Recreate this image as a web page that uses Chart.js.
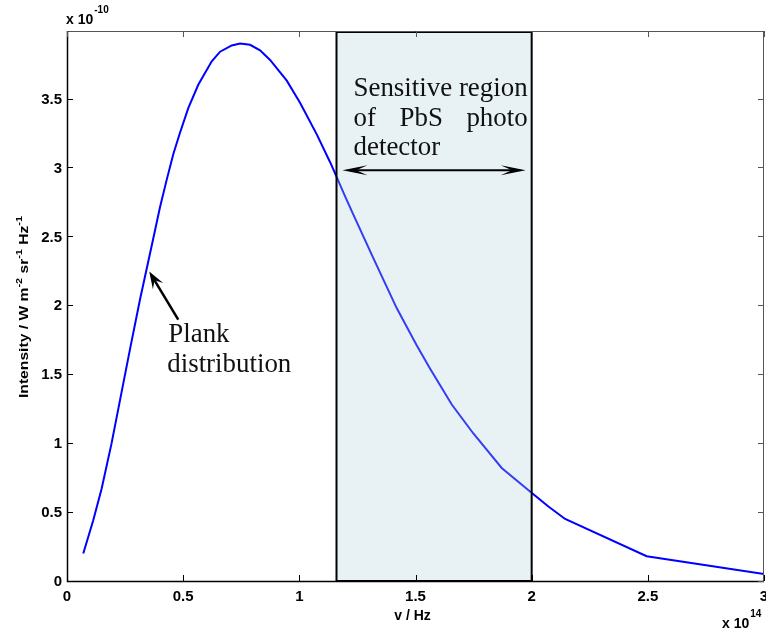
<!DOCTYPE html>
<html>
<head>
<meta charset="utf-8">
<script src="https://cdn.jsdelivr.net/npm/chart.js@4"></script>
<style>
  html, body { margin: 0; padding: 0; background: #ffffff; }
  #wrap { width: 766px; height: 631px; position: relative; }
</style>
</head>
<body>
<div id="wrap"><canvas id="c" width="766" height="631"></canvas></div>
<script>
// Planck spectral intensity, frequency in units of 1e14 Hz, intensity in units of 1e-10
const frequency = [0.070, 0.113, 0.149, 0.192, 0.228, 0.271, 0.314, 0.350, 0.372, 0.400,
                   0.429, 0.458, 0.486, 0.522, 0.565, 0.623, 0.659, 0.709, 0.745, 0.788,
                   0.831, 0.874, 0.946, 1.003, 1.075, 1.132, 1.161, 1.197, 1.232, 1.319,
                   1.419, 1.505, 1.563, 1.656, 1.749, 1.871, 1.993, 2.072, 2.144, 2.495, 3.000];
const intensity = [0.20, 0.44, 0.67, 1.00, 1.31, 1.68, 2.04, 2.32, 2.49, 2.71,
                   2.91, 3.10, 3.25, 3.43, 3.60, 3.77, 3.84, 3.885, 3.90, 3.89,
                   3.85, 3.78, 3.63, 3.47, 3.24, 3.04, 2.93, 2.79, 2.66, 2.34,
                   1.98, 1.71, 1.54, 1.28, 1.07, 0.82, 0.65, 0.54, 0.45, 0.18, 0.05];

const xTickValues = [0, 0.5, 1, 1.5, 2, 2.5, 3];
const xTickLabels = ['0', '0.5', '1', '1.5', '2', '2.5', '3'];
const yTickValues = [0, 0.5, 1, 1.5, 2, 2.5, 3, 3.5];
const yTickLabels = ['0', '0.5', '1', '1.5', '2', '2.5', '3', '3.5'];

// PbS detector band (1e14 Hz)
const bandStart = 1.16;
const bandEnd = 2.0;
const bandArrowLevel = 2.98;
const bandText = ['Sensitive region', ['of', 'PbS', 'photo'], 'detector'];

// point on the curve indicated by the "Plank distribution" note
const noteFreq = 0.354;
const noteIntensity = 2.245;
const noteText = ['Plank', 'distribution'];

const points = frequency.map((f, i) => ({ x: f, y: intensity[i] }));

const TICK_FONT = 'bold 15px "Liberation Sans", Arial, sans-serif';
const SERIF = '"Liberation Serif", "Times New Roman", serif';

function stealthHead(ctx, tx, ty, angle, len, halfW, notch) {
  const dx = Math.cos(angle), dy = Math.sin(angle);
  const px = -dy, py = dx;
  ctx.beginPath();
  ctx.moveTo(tx, ty);
  ctx.lineTo(tx - len * dx + halfW * px, ty - len * dy + halfW * py);
  ctx.lineTo(tx - len * notch * dx, ty - len * notch * dy);
  ctx.lineTo(tx - len * dx - halfW * px, ty - len * dy - halfW * py);
  ctx.closePath();
  ctx.fill();
}

const decorations = {
  id: 'decorations',
  afterDatasetsDraw(chart) {
    const { ctx, chartArea: a, scales: { x, y } } = chart;
    const x0 = x.getPixelForValue(bandStart);
    const x1 = x.getPixelForValue(bandEnd);
    ctx.save();
    // translucent band laid over the curve
    ctx.fillStyle = 'rgba(175, 210, 222, 0.29)';
    ctx.fillRect(x0, a.top, x1 - x0, a.bottom - a.top);
    ctx.strokeStyle = '#000000';
    ctx.lineWidth = 2;
    ctx.strokeRect(x0, a.top + 1, x1 - x0, a.bottom - a.top - 1);
    ctx.restore();
  },
  afterDraw(chart) {
    const { ctx, chartArea: a, scales: { x, y } } = chart;
    ctx.save();

    // axes box
    ctx.lineWidth = 1;
    ctx.strokeStyle = '#555555';
    ctx.beginPath();
    ctx.moveTo(a.left, a.top + 0.5); ctx.lineTo(a.right, a.top + 0.5);
    ctx.moveTo(a.right - 0.5, a.top); ctx.lineTo(a.right - 0.5, a.bottom);
    ctx.stroke();
    ctx.lineWidth = 1.5;
    ctx.strokeStyle = '#000000';
    ctx.beginPath();
    ctx.moveTo(a.left + 0.5, a.top); ctx.lineTo(a.left + 0.5, a.bottom + 0.5);
    ctx.lineTo(a.right, a.bottom + 0.5);
    ctx.stroke();

    // inward ticks on all four sides
    const tl = 6;
    ctx.lineWidth = 1;
    xTickValues.forEach(v => {
      const px = Math.round(x.getPixelForValue(v)) + 0.5;
      ctx.strokeStyle = '#000000';
      ctx.beginPath(); ctx.moveTo(px, a.bottom); ctx.lineTo(px, a.bottom - tl); ctx.stroke();
      ctx.strokeStyle = '#555555';
      ctx.beginPath(); ctx.moveTo(px, a.top); ctx.lineTo(px, a.top + tl); ctx.stroke();
    });
    yTickValues.forEach(v => {
      const py = Math.round(y.getPixelForValue(v)) + 0.5;
      ctx.strokeStyle = '#000000';
      ctx.beginPath(); ctx.moveTo(a.left, py); ctx.lineTo(a.left + tl, py); ctx.stroke();
      ctx.strokeStyle = '#555555';
      ctx.beginPath(); ctx.moveTo(a.right, py); ctx.lineTo(a.right - tl, py); ctx.stroke();
    });

    // tick labels
    ctx.fillStyle = '#000000';
    ctx.font = TICK_FONT;
    ctx.textAlign = 'center';
    ctx.textBaseline = 'alphabetic';
    xTickValues.forEach((v, i) => {
      ctx.fillText(xTickLabels[i], x.getPixelForValue(v), a.bottom + 20);
    });
    ctx.textAlign = 'right';
    ctx.textBaseline = 'middle';
    yTickValues.forEach((v, i) => {
      ctx.fillText(yTickLabels[i], a.left - 5, y.getPixelForValue(v) + 1);
    });

    // exponent markers
    ctx.textBaseline = 'alphabetic';
    ctx.textAlign = 'left';
    ctx.font = 'bold 14px "Liberation Sans", Arial, sans-serif';
    ctx.fillText('x 10', a.left - 1, a.top - 7);
    const w1 = ctx.measureText('x 10').width;
    ctx.font = 'bold 10px "Liberation Sans", Arial, sans-serif';
    ctx.fillText('-10', a.left - 1 + w1 + 1, a.top - 18);

    ctx.font = 'bold 14px "Liberation Sans", Arial, sans-serif';
    ctx.fillText('x 10', a.right - 42, a.bottom + 47);
    const w2 = ctx.measureText('x 10').width;
    ctx.font = 'bold 10px "Liberation Sans", Arial, sans-serif';
    ctx.fillText('14', a.right - 42 + w2 + 1, a.bottom + 36);

    // x axis title
    ctx.font = 'bold 14px "Liberation Sans", Arial, sans-serif';
    ctx.textAlign = 'center';
    ctx.fillText('v / Hz', (a.left + a.right) / 2 - 3, a.bottom + 39);

    // y axis title with superscripts, rotated
    const parts = [
      ['Intensity / W m', false], ['-2', true], [' sr', false], ['-1', true], [' Hz', false], ['-1', true]
    ];
    const baseFont = 'bold 13px "Liberation Sans", Arial, sans-serif';
    const supFont = 'bold 9px "Liberation Sans", Arial, sans-serif';
    let total = 0;
    parts.forEach(([t, sup]) => { ctx.font = sup ? supFont : baseFont; total += ctx.measureText(t).width; });
    const targetLen = 182;
    const sx = targetLen / total;
    ctx.translate(28, (a.top + a.bottom) / 2 + 1);
    ctx.rotate(-Math.PI / 2);
    ctx.scale(sx, 1);
    ctx.textAlign = 'left';
    let cx = -total / 2;
    parts.forEach(([t, sup]) => {
      ctx.font = sup ? supFont : baseFont;
      ctx.fillText(t, cx, sup ? -6 : 0);
      cx += ctx.measureText(t).width;
    });
    ctx.setTransform(1, 0, 0, 1, 0, 0);

    // band annotation: justified text block and double arrow
    const bx0 = x.getPixelForValue(bandStart);
    const bx1 = x.getPixelForValue(bandEnd);
    const tLeft = bx0 + 17, tRight = bx1 - 4;
    let size = 26;
    ctx.font = size + 'px ' + SERIF;
    size = size * (tRight - tLeft) / ctx.measureText(bandText[0]).width;
    const serifFont = size.toFixed(2) + 'px ' + SERIF;
    ctx.font = serifFont;
    ctx.fillStyle = '#111111';
    ctx.textAlign = 'left';
    const base0 = a.top + 65;
    const lineH = 29.5;
    ctx.fillText(bandText[0], tLeft, base0);
    // justified middle line
    const words = bandText[1];
    const ww = words.map(w => ctx.measureText(w).width);
    const gap = (tRight - tLeft - ww.reduce((s, v) => s + v, 0)) / (words.length - 1);
    let wx = tLeft;
    words.forEach((w, i) => { ctx.fillText(w, wx, base0 + lineH); wx += ww[i] + gap; });
    ctx.fillText(bandText[2], tLeft, base0 + 2 * lineH);

    const ay = y.getPixelForValue(bandArrowLevel);
    const ax0 = bx0 + 6, ax1 = bx1 - 6;
    ctx.strokeStyle = '#000000';
    ctx.fillStyle = '#000000';
    ctx.lineWidth = 2;
    ctx.beginPath(); ctx.moveTo(ax0 + 10, ay); ctx.lineTo(ax1 - 10, ay); ctx.stroke();
    stealthHead(ctx, ax0, ay, Math.PI, 25, 5, 0.55);
    stealthHead(ctx, ax1, ay, 0, 25, 5, 0.55);

    // note arrow pointing at the curve
    const nx = x.getPixelForValue(noteFreq);
    const ny = y.getPixelForValue(noteIntensity);
    const tailX = nx + 29, tailY = ny + 48;
    const ang = Math.atan2(ny - tailY, nx - tailX);
    ctx.lineWidth = 2.5;
    ctx.beginPath();
    ctx.moveTo(tailX, tailY);
    ctx.lineTo(nx - 10 * Math.cos(ang), ny - 10 * Math.sin(ang));
    ctx.stroke();
    stealthHead(ctx, nx, ny, ang, 17, 6, 0.6);

    ctx.font = serifFont;
    ctx.fillStyle = '#111111';
    ctx.fillText(noteText[0], nx + 19, ny + 70);
    ctx.fillText(noteText[1], nx + 18, ny + 100);

    ctx.restore();
  }
};

new Chart(document.getElementById('c'), {
  type: 'line',
  data: {
    datasets: [{
      data: points,
      borderColor: '#0000ff',
      borderWidth: 2,
      pointRadius: 0,
      fill: false,
      tension: 0
    }]
  },
  options: {
    responsive: false,
    animation: false,
    layout: { padding: { top: 31, right: 2, left: 0, bottom: 0 } },
    plugins: { legend: { display: false }, tooltip: { enabled: false } },
    scales: {
      x: {
        type: 'linear', min: 0, max: 3,
        grid: { display: false }, border: { display: false },
        ticks: { display: false },
        afterFit(scale) { scale.height = 50; }
      },
      y: {
        type: 'linear', min: 0, max: 3.99,
        grid: { display: false }, border: { display: false },
        ticks: { display: false },
        afterFit(scale) { scale.width = 67; }
      }
    }
  },
  plugins: [decorations]
});
</script>
</body>
</html>
